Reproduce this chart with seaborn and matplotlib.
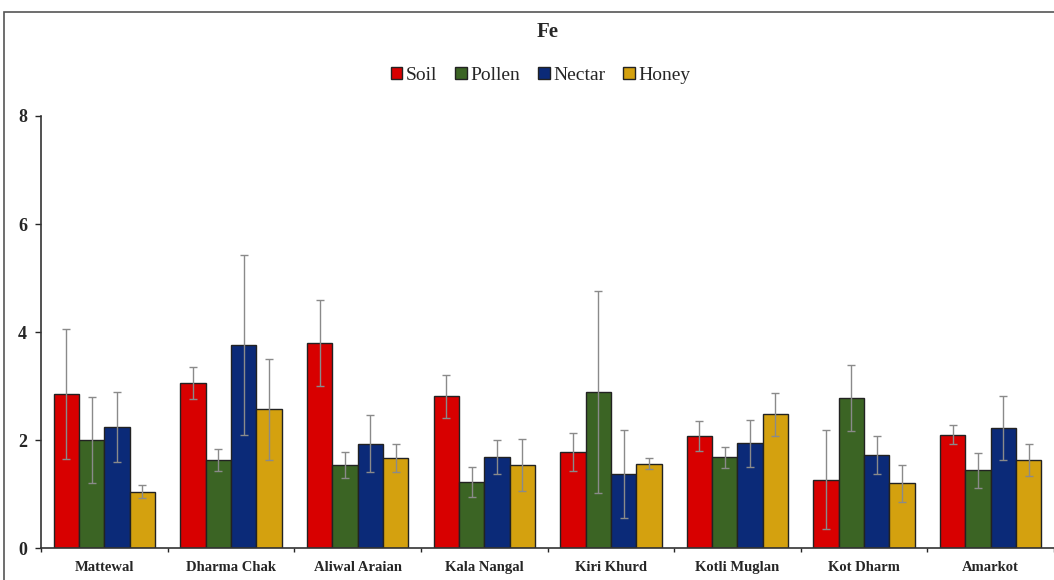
import pandas as pd
import matplotlib.pyplot as plt
import matplotlib.patches as mpatches
import numpy as np
import seaborn as sns

sites = ['Mattewal', 'Dharma Chak', 'Aliwal Araian', 'Kala Nangal',
         'Kiri Khurd', 'Kotli Muglan', 'Kot Dharm', 'Amarkot']
sources = ['Soil', 'Pollen', 'Nectar', 'Honey']

soil = [2.85, 3.06, 3.80, 2.81, 1.78, 2.07, 1.27, 2.10]
pollen = [2.00, 1.63, 1.54, 1.22, 2.89, 1.68, 2.78, 1.44]
nectar = [2.24, 3.76, 1.93, 1.69, 1.37, 1.94, 1.72, 2.22]
honey = [1.04, 2.57, 1.67, 1.54, 1.56, 2.48, 1.20, 1.63]

soil_err = [1.20, 0.30, 0.80, 0.40, 0.35, 0.28, 0.91, 0.17]
pollen_err = [0.80, 0.20, 0.24, 0.28, 1.87, 0.19, 0.61, 0.32]
nectar_err = [0.65, 1.67, 0.53, 0.31, 0.82, 0.43, 0.35, 0.59]
honey_err = [0.12, 0.93, 0.26, 0.48, 0.10, 0.40, 0.34, 0.29]

colors = ['#d80000', '#3b6424', '#0b2a78', '#d4a10f']

vals = [soil, pollen, nectar, honey]
errs = [soil_err, pollen_err, nectar_err, honey_err]
rows = []
for s, v, e in zip(sources, vals, errs):
    for site, val, err in zip(sites, v, e):
        rows.append({'site': site, 'source': s, 'value': val, 'err': err})
df = pd.DataFrame(rows)

sns.set_style('white')
plt.rcParams['font.family'] = ['Liberation Serif', 'DejaVu Serif']

fig = plt.figure(figsize=(10.54, 5.8), dpi=100)
ax = fig.add_axes([0.039, 0.055, 0.961, 0.745])

sns.barplot(data=df, x='site', y='value', hue='source', order=sites,
            hue_order=sources, palette=colors, saturation=1, width=0.8,
            errorbar=None, edgecolor='#222222', linewidth=1.0, ax=ax,
            legend=False)

# error bars on top of bars
for container, s in zip(ax.containers, sources):
    sub = df[df['source'] == s].set_index('site').loc[sites]
    xs = [p.get_x() + p.get_width() / 2 for p in container]
    ax.errorbar(xs, sub['value'], yerr=sub['err'], fmt='none',
                ecolor='#8a8a8a', elinewidth=1.0, capsize=3, capthick=1.0)

ax.set_ylim(0, 8)
ax.set_xlim(-0.5, 7.5)
ax.set_yticks([0, 2, 4, 6, 8])
ax.set_xlabel('')
ax.set_ylabel('')
for side in ['top', 'right']:
    ax.spines[side].set_visible(False)
for side in ['left', 'bottom']:
    ax.spines[side].set_color('#333333')
    ax.spines[side].set_linewidth(1.2)
ax.tick_params(axis='y', left=True, length=4, width=1, labelsize=13, pad=6)
ax.set_xticks(np.arange(-0.5, 8, 1), minor=True)
ax.tick_params(axis='x', which='minor', bottom=True, length=3, width=1)
ax.tick_params(axis='x', which='major', bottom=False, labelsize=10.5, pad=6)
for lbl in ax.get_yticklabels() + ax.get_xticklabels():
    lbl.set_fontweight('bold')

fig.text(0.52, 0.945, 'Fe', ha='center', va='center', fontsize=15,
         fontweight='bold')

handles = [mpatches.Patch(facecolor=c, edgecolor='#222222', label=s)
           for s, c in zip(sources, colors)]
fig.legend(handles=handles, loc='center', bbox_to_anchor=(0.513, 0.87),
           ncol=4, frameon=False, fontsize=14, handlelength=0.6,
           handleheight=0.6, handletextpad=0.2, columnspacing=0.9)

fig.patches.append(mpatches.Rectangle((0.004, -0.01), 1.0, 0.989,
                                      transform=fig.transFigure, fill=False,
                                      edgecolor='#555555', linewidth=1.2))

fig.savefig('out.png', dpi=100)
